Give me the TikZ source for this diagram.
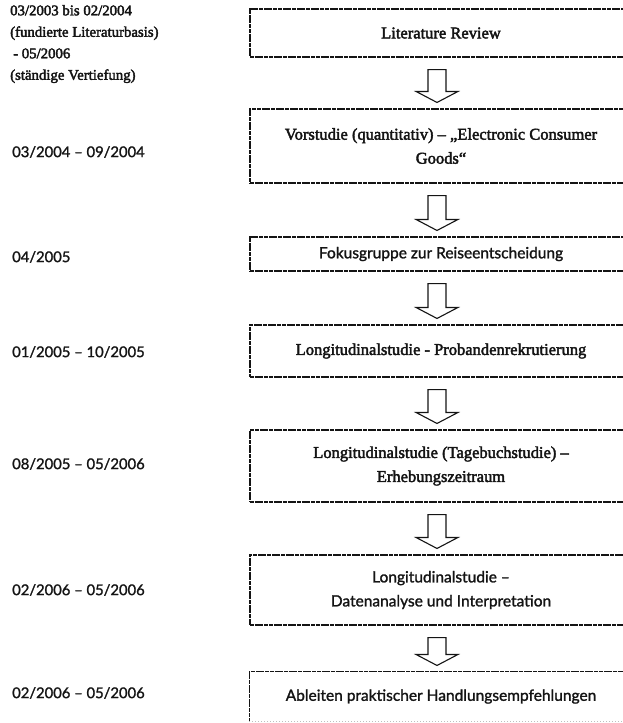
\documentclass[tikz,border=0pt]{standalone}
\usepackage{fontspec}
\setmainfont{Liberation Serif}
\newfontfamily\serfont{Liberation Serif}[FakeBold=2.5]
\newfontfamily\optfont{Lato}[FakeBold=1.5]
\usetikzlibrary{calc}
\definecolor{ink}{gray}{0.08}
\tikzset{
  box/.style={draw=ink, line width=1.1pt, dash pattern=on 4pt off 0.7pt,
    minimum width=382pt, inner sep=0pt, align=center, text=ink},
  tbox/.style={box, font=\serfont\fontsize{16.5}{24}\selectfont},
  obox/.style={box, font=\optfont\fontsize{15.5}{24}\selectfont},
  datelbl/.style={anchor=west, inner sep=0pt, text=ink,
    font=\optfont\fontsize{14.8}{18}\selectfont},
  firstlbl/.style={anchor=west, inner sep=0pt, text=ink, align=left,
    font=\serfont\fontsize{14.8}{21.5}\selectfont},
  blockarr/.style={draw=ink, line width=1.1pt, fill=white, line join=miter},
}
\newcommand{\blkarrow}[2]{%
  \draw[blockarr] let \p1=(#1.south), \p2=(#2.north) in
    ({\x1-13pt},{\y1-12pt}) -- ({\x1-13pt},{\y2+17pt}) -- ({\x1-25pt},{\y2+17pt})
    -- ({\x1-4pt},{\y2+6pt}) -- ({\x1+17pt},{\y2+17pt}) -- ({\x1+5pt},{\y2+17pt})
    -- ({\x1+5pt},{\y1-12pt}) -- cycle;}
\begin{document}
\begin{tikzpicture}[x=1pt,y=-1pt]
\useasboundingbox (0,0) rectangle (623,723);

% boxes
\node[tbox, minimum height=48pt] (b1) at (441,33) {Literature Review};
\node[tbox, minimum height=74pt] (b2) at (441,146)
  {Vorstudie (quantitativ) – „Electronic Consumer\\Goods“};
\node[obox, minimum height=34pt] (b3) at (441,254) {Fokusgruppe zur Reiseentscheidung};
\node[tbox, minimum height=52pt] (b4) at (441,351) {Longitudinalstudie - Probandenrekrutierung};
\node[tbox, minimum height=72pt] (b5) at (441,466)
  {Longitudinalstudie (Tagebuchstudie) –\\Erhebungszeitraum};
\node[obox, minimum height=70pt] (b6) at (441,590)
  {Longitudinalstudie –\\Datenanalyse und Interpretation};
\node[obox, draw=none, minimum height=49pt] (b7) at (441,696.5)
  {Ableiten praktischer Handlungsempfehlungen};
\draw[draw=ink, line width=1.1pt, dash pattern=on 4pt off 0.7pt]
  (b7.south west) -- (b7.north west) -- (b7.north east) -- (b7.south east);
\draw[draw=black!25, line width=0.8pt, dash pattern=on 1pt off 2pt]
  (b7.south west) -- (b7.south east);

% arrows
\blkarrow{b1}{b2}
\blkarrow{b2}{b3}
\blkarrow{b3}{b4}
\blkarrow{b4}{b5}
\blkarrow{b5}{b6}
\blkarrow{b6}{b7}

% date labels
\node[firstlbl] (l1) at (10,44)
  {03/2003 bis 02/2004\\(fundierte Literaturbasis)\\\hspace{3pt}- 05/2006\\(ständige Vertiefung)};
\node[datelbl] (l2) at (12,152) {03/2004 – 09/2004};
\node[datelbl] (l3) at (12,257) {04/2005};
\node[datelbl] (l4) at (12,352) {01/2005 – 10/2005};
\node[datelbl] (l5) at (12,464) {08/2005 – 05/2006};
\node[datelbl] (l6) at (12,590) {02/2006 – 05/2006};
\node[datelbl] (l7) at (12,693) {02/2006 – 05/2006};
\end{tikzpicture}
\end{document}
